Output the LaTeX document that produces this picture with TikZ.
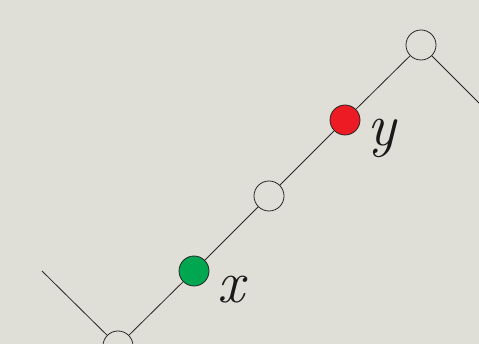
\documentclass[tikz,border=0pt]{standalone}
\usepackage{fontspec}
\definecolor{bg}{RGB}{223,222,215}
\definecolor{gnode}{RGB}{0,166,80}
\definecolor{rnode}{RGB}{237,28,36}
\begin{document}
\begin{tikzpicture}[x=1pt,y=-1pt,
  vertex/.style={circle,draw=black!85,line width=0.8pt,minimum size=30pt,inner sep=0pt,fill=bg},
  edge/.style={draw=black!85,line width=0.8pt},
  lab/.style={font=\fontsize{60}{64}\selectfont\itshape\addfontfeature{FakeBold=1.5},inner sep=0pt,text=black!90}]
\fill[bg] (0,0) rectangle (479,344);
\useasboundingbox (0,0) rectangle (479,344);
\coordinate (l) at (42,271);
\coordinate (r) at (481,105);
\node[vertex] (a) at (118,346) {};
\node[vertex,fill=gnode] (b) at (194,271) {};
\node[vertex] (c) at (269,196) {};
\node[vertex,fill=rnode] (d) at (345,120) {};
\node[vertex] (e) at (421,45) {};
\draw[edge] (l) -- (a);
\draw[edge] (a) -- (b);
\draw[edge] (b) -- (c);
\draw[edge] (c) -- (d);
\draw[edge] (d) -- (e);
\draw[edge] (e) -- (r);
\node[lab] (xl) at (231,290) {x};
\node[lab] (yl) at (382,138) {y};
\end{tikzpicture}
\end{document}
